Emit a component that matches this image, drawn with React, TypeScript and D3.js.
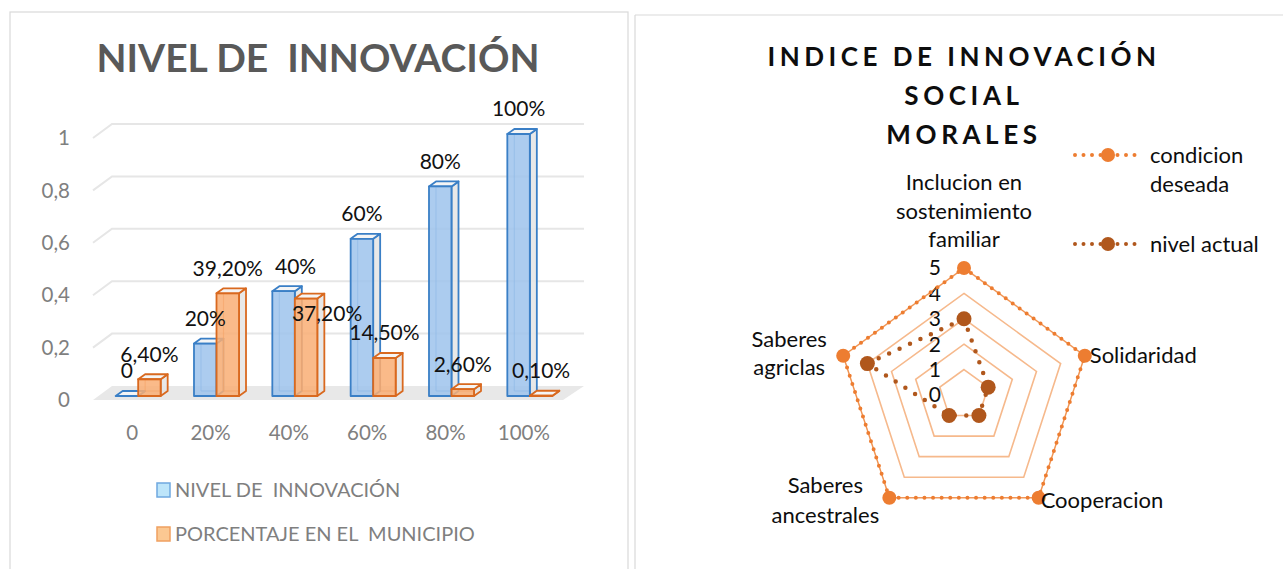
import React from 'react';
import * as d3 from 'd3';

// ---------- data: left chart ----------
const barCategories = ['0', '20%', '40%', '60%', '80%', '100%'];
const nivelValues = [0, 0.2, 0.4, 0.6, 0.8, 1.0];
const porcentajeValues = [0.064, 0.392, 0.372, 0.145, 0.026, 0.001];
const nivelLabels = ['0', '20%', '40%', '60%', '80%', '100%'];
const porcentajeLabels = ['6,40%', '39,20%', '37,20%', '14,50%', '2,60%', '0,10%'];
const yTicks = [0, 0.2, 0.4, 0.6, 0.8, 1];
const barSeriesNames = ['NIVEL DE  INNOVACIÓN', 'PORCENTAJE EN EL  MUNICIPIO'];
const barTitle = 'NIVEL DE  INNOVACIÓN';

// ---------- data: right chart ----------
const radarAxes = [
  ['Inclucion en', 'sostenimiento', 'familiar'],
  ['Solidaridad'],
  ['Cooperacion'],
  ['Saberes', 'ancestrales'],
  ['Saberes', 'agriclas'],
];
const condicionDeseada = [5, 5, 5, 5, 5];
const nivelActual = [3, 1, 1, 1, 4];
const radarTicks = [0, 1, 2, 3, 4, 5];
const radarSeriesNames = [['condicion', 'deseada'], ['nivel actual']];
const radarTitle = ['INDICE DE INNOVACIÓN', 'SOCIAL', 'MORALES'];

const FONT = 'Lato, "Open Sans", sans-serif';

// layout-only nudges for the two data labels Excel moved
const labelNudge: Record<string, [number, number]> = {
  'n2': [12, 0],
  'p2': [21, 40],
};

function Bar3D({ x, w, yTop, yBase, dx, dy, fill, stroke }: any) {
  const side = [[x + w, yBase], [x + w + dx, yBase + dy], [x + w + dx, yTop + dy], [x + w, yTop]];
  const top = [[x, yTop], [x + dx, yTop + dy], [x + w + dx, yTop + dy], [x + w, yTop]];
  const pts = (p: number[][]) => p.map((q) => q.join(',')).join(' ');
  return (
    <g strokeLinejoin="round">
      <line x1={x + dx} y1={yBase + dy} x2={x + dx} y2={yTop + dy} stroke={stroke} strokeWidth={1.2} opacity={0.6} />
      <line x1={x + dx} y1={yBase + dy} x2={x + w + dx} y2={yBase + dy} stroke={stroke} strokeWidth={1.2} opacity={0.6} />
      <polygon points={pts(side)} fill="#e6e6e6" fillOpacity={0.9} stroke={stroke} strokeWidth={1.8} />
      <polygon points={pts(top)} fill="#f5f5f5" stroke={stroke} strokeWidth={1.8} />
      <rect x={x} y={yTop} width={w} height={yBase - yTop} fill={fill} fillOpacity={0.85} stroke={stroke} strokeWidth={1.8} />
    </g>
  );
}

function BarChart() {
  const x0 = d3.scaleBand<string>().domain(barCategories).range([93, 563]);
  const x1 = d3.scaleBand<string>().domain(['n', 'p']).range([0, x0.bandwidth()]).paddingOuter(0.74).paddingInner(0);
  const yBar = d3.scaleLinear().domain([0, 1]).range([396, 134]);
  const yFront = d3.scaleLinear().domain([0, 1]).range([400, 138]);
  const yBack = d3.scaleLinear().domain([0, 1]).range([386, 124]);
  const backL = 112, backR = 584, frontL = 93, frontR = 563;
  const shift = 6, dx = 7, dy = -5;
  const fmt = (v: number) => d3.format('~g')(v).replace('.', ',');
  const series = [
    { key: 'n', values: nivelValues, labels: nivelLabels, fill: '#9dc3ec', stroke: '#3a7fc6' },
    { key: 'p', values: porcentajeValues, labels: porcentajeLabels, fill: '#f9ae74', stroke: '#d9691f' },
  ];
  return (
    <g fontFamily={FONT}>
      <rect x={10} y={12} width={618} height={570} fill="#fff" stroke="#d9d9d9" strokeWidth={1.2} />
      <text x={318} y={72} textAnchor="middle" fontSize={39} fontWeight={700} fill="#595959" style={{ whiteSpace: 'pre' }}>{barTitle}</text>
      {/* floor */}
      <polygon points={`${frontL},${yFront(0)} ${backL},${yBack(0)} ${backR},${yBack(0)} ${frontR},${yFront(0)}`} fill="#e8e8e8" />
      {/* gridlines */}
      {yTicks.filter((t) => t > 0).map((t) => (
        <polyline key={t} points={`${frontL},${yFront(t)} ${backL},${yBack(t)} ${backR},${yBack(t)}`} fill="none" stroke="#e6e6e6" strokeWidth={2} />
      ))}
      {yTicks.map((t) => (
        <text key={t} x={70} y={yFront(t)} dy="0.35em" textAnchor="end" fontSize={20.5} fill="#7f7f7f">{fmt(t)}</text>
      ))}
      {barCategories.map((c) => (
        <text key={c} x={(x0(c) as number) + x0.bandwidth() / 2} y={433} dy="0.35em" textAnchor="middle" fontSize={20.5} fill="#7f7f7f">{c}</text>
      ))}
      {barCategories.map((c, i) => (
        <g key={c}>
          {series.map((s) => {
            const bx = (x0(c) as number) + (x1(s.key) as number) + shift;
            return (
              <Bar3D key={s.key} x={bx} w={x1.bandwidth()} yTop={yBar(s.values[i])} yBase={yBar(0)} dx={dx} dy={dy} fill={s.fill} stroke={s.stroke} />
            );
          })}
        </g>
      ))}
      {barCategories.map((c, i) => (
        <g key={c}>
          {series.map((s) => {
            const bx = (x0(c) as number) + (x1(s.key) as number) + shift;
            const nd = labelNudge[s.key + i] || [0, 0];
            return (
              <text key={s.key} x={bx + x1.bandwidth() / 2 + nd[0]} y={yBar(s.values[i]) - 25 + nd[1]} dy="0.35em" textAnchor="middle" fontSize={21} fill="#111">{s.labels[i]}</text>
            );
          })}
        </g>
      ))}
      {/* legend */}
      {barSeriesNames.map((n, i) => (
        <g key={n} transform={`translate(157,${483 + i * 44})`}>
          <rect x={0} y={0} width={13} height={14} fill={i === 0 ? '#bde5fa' : '#fbc892'} stroke={i === 0 ? '#6fa8e0' : '#f0a060'} strokeWidth={1.5} />
          <text x={18} y={7} dy="0.35em" fontSize={20} fill="#7f7f7f" style={{ whiteSpace: 'pre' }}>{n}</text>
        </g>
      ))}
    </g>
  );
}

function RadarChart() {
  const cx = 964, cy = 395;
  const r = d3.scaleLinear().domain([0, 5]).range([0, 127]);
  const ang = (i: number) => -Math.PI / 2 + (i * 2 * Math.PI) / radarAxes.length;
  const pt = (i: number, v: number): [number, number] => [cx + r(v) * Math.cos(ang(i)), cy + r(v) * Math.sin(ang(i))];
  const line = d3.line<number>().x((v, i) => pt(i, v)[0]).y((v, i) => pt(i, v)[1]).curve(d3.curveLinearClosed);
  const orange = '#ed7d31', brown = '#b0571c';
  const labelLayout = [
    { anchor: 'middle', dx: 0, dy: -21, lineH: 28.5, align: 'bottom' },
    { anchor: 'start', dx: 5, dy: 7, lineH: 28.5, align: 'top' },
    { anchor: 'start', dx: 2, dy: 10, lineH: 28.5, align: 'top' },
    { anchor: 'middle', dx: -64, dy: -5, lineH: 30, align: 'top' },
    { anchor: 'middle', dx: -54, dy: -9, lineH: 28.5, align: 'top' },
  ];
  return (
    <g fontFamily={FONT}>
      <line x1={635} y1={15} x2={1283} y2={15} stroke="#d9d9d9" strokeWidth={1.2} />
      <line x1={635} y1={15} x2={635} y2={569} stroke="#d9d9d9" strokeWidth={1.2} />
      {radarTitle.map((t, i) => (
        <text key={t} x={964} y={66 + i * 39} textAnchor="middle" fontSize={26} fontWeight={700} fill="#0d0d0d" letterSpacing={i === 0 ? 4.5 : 4.6}>{t}</text>
      ))}
      {/* grid */}
      {radarTicks.filter((t) => t > 0).map((t) => (
        <path key={t} d={line(radarAxes.map(() => t)) as string} fill="none" stroke="#f6b98c" strokeWidth={1.6} />
      ))}
      {radarTicks.map((t) => (
        <text key={t} x={941} y={cy - r(t)} dy="0.35em" textAnchor="end" fontSize={21} fill="#0d0d0d">{t}</text>
      ))}
      {/* condicion deseada */}
      <path d={line(condicionDeseada) as string} fill="none" stroke={orange} strokeWidth={1} opacity={0.7} />
      <path d={line(condicionDeseada) as string} fill="none" stroke={orange} strokeWidth={4} strokeDasharray="0 8.6" strokeLinecap="round" />
      {condicionDeseada.map((v, i) => (
        <circle key={i} cx={pt(i, v)[0]} cy={pt(i, v)[1]} r={7} fill={orange} />
      ))}
      {/* nivel actual */}
      <path d={line(nivelActual) as string} fill="none" stroke={brown} strokeWidth={4.5} strokeDasharray="0 11.5" strokeLinecap="round" />
      {nivelActual.map((v, i) => (
        <circle key={i} cx={pt(i, v)[0]} cy={pt(i, v)[1]} r={7.5} fill={brown} />
      ))}
      {/* axis labels */}
      {radarAxes.map((lines, i) => {
        const [vx, vy] = pt(i, 5);
        const L = labelLayout[i];
        const y0 = L.align === 'bottom' ? vy + L.dy - (lines.length - 1) * L.lineH : vy + L.dy;
        return (
          <text key={i} textAnchor={L.anchor} fontSize={22} fill="#0d0d0d">
            {lines.map((l, j) => (
              <tspan key={j} x={vx + L.dx} y={y0 + j * L.lineH}>{l}</tspan>
            ))}
          </text>
        );
      })}
      {/* legend */}
      {radarSeriesNames.map((lines, i) => {
        const ly = i === 0 ? 155 : 244;
        const col = i === 0 ? orange : brown;
        return (
          <g key={i}>
            <line x1={1075} y1={ly} x2={1142} y2={ly} stroke={col} strokeWidth={4} strokeDasharray="0 8.5" strokeLinecap="round" />
            <circle cx={1108} cy={ly} r={7} fill={col} />
            <text fontSize={22} fill="#0d0d0d">
              {lines.map((l, j) => (
                <tspan key={j} x={1150} y={ly + 8 + j * 29}>{l}</tspan>
              ))}
            </text>
          </g>
        );
      })}
    </g>
  );
}

export default function App() {
  return (
    <svg width={1283} height={569} style={{ position: 'absolute', left: 0, top: 0, background: '#fff' }}>
      <rect x={0} y={0} width={1283} height={569} fill="#fff" />
      <BarChart />
      <RadarChart />
    </svg>
  );
}
